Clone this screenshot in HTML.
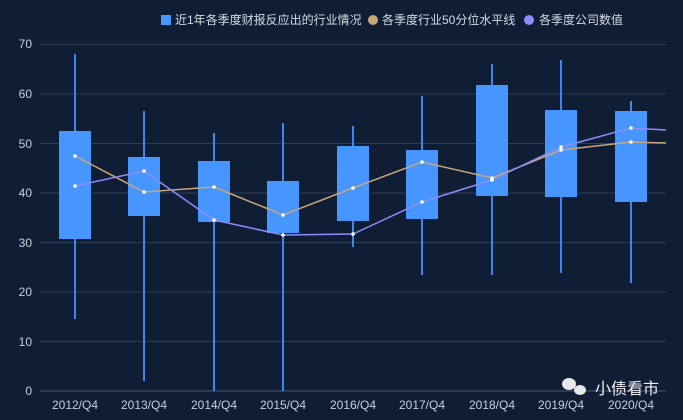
<!DOCTYPE html>
<html><head><meta charset="utf-8"><style>
html,body{margin:0;padding:0;background:#0f1e35;}
svg{display:block;font-family:"Liberation Sans","Noto Sans CJK SC",sans-serif;}
</style></head><body>
<svg width="683" height="420" viewBox="0 0 683 420">
<rect width="683" height="420" fill="#0f1e35"/>
<g stroke="#2f3d55" stroke-width="1">
<line x1="40" x2="666" y1="44.5" y2="44.5"/>
<line x1="40" x2="666" y1="94" y2="94"/>
<line x1="40" x2="666" y1="143.5" y2="143.5"/>
<line x1="40" x2="666" y1="193" y2="193"/>
<line x1="40" x2="666" y1="242.5" y2="242.5"/>
<line x1="40" x2="666" y1="292" y2="292"/>
<line x1="40" x2="666" y1="341.5" y2="341.5"/>
<line x1="40" x2="666" y1="391" y2="391" stroke="#4a5872"/>
</g>
<g fill="#c8d0dc" font-size="12" text-anchor="end">
<text x="32" y="48">70</text><text x="32" y="98">60</text><text x="32" y="148">50</text>
<text x="32" y="197">40</text><text x="32" y="247">30</text><text x="32" y="296">20</text>
<text x="32" y="346">10</text><text x="32" y="395">0</text>
</g>
<g fill="#c8d0dc" font-size="12" text-anchor="middle">
<text x="75" y="409">2012/Q4</text><text x="144" y="409">2013/Q4</text><text x="214" y="409">2014/Q4</text>
<text x="283" y="409">2015/Q4</text><text x="353" y="409">2016/Q4</text><text x="422" y="409">2017/Q4</text>
<text x="492" y="409">2018/Q4</text><text x="561" y="409">2019/Q4</text><text x="631" y="409">2020/Q4</text>
</g>
<g stroke="#3f88ea" stroke-width="2">
<line x1="75" x2="75" y1="54" y2="319"/>
<line x1="144" x2="144" y1="111" y2="381"/>
<line x1="214" x2="214" y1="133" y2="391"/>
<line x1="283" x2="283" y1="123" y2="391"/>
<line x1="353" x2="353" y1="126" y2="247"/>
<line x1="422" x2="422" y1="96" y2="275"/>
<line x1="492" x2="492" y1="64" y2="275"/>
<line x1="561" x2="561" y1="60" y2="273"/>
<line x1="631" x2="631" y1="101" y2="283"/>
</g>
<g fill="#4796ff">
<rect x="59" y="131" width="32" height="108"/>
<rect x="128" y="157" width="32" height="59"/>
<rect x="198" y="161" width="32" height="61"/>
<rect x="267" y="181" width="32" height="52"/>
<rect x="337" y="146" width="32" height="75"/>
<rect x="406" y="150" width="32" height="69"/>
<rect x="476" y="85" width="32" height="111"/>
<rect x="545" y="110" width="32" height="87"/>
<rect x="615" y="111" width="32" height="91"/>
</g>
<polyline fill="none" stroke="#c9a57a" stroke-width="1.5" points="75,156 144,192 214,187 283,215 353,188 422,162 492,178 561,150 631,142 666,143"/>
<polyline fill="none" stroke="#8b8dfa" stroke-width="1.5" points="75,186 144,171 214,220 283,235 353,234 422,202 492,180 561,147 631,128 666,130"/>
<g fill="#fff">
<circle cx="75" cy="156" r="1.8"/><circle cx="144" cy="192" r="1.8"/><circle cx="214" cy="187" r="1.8"/><circle cx="283" cy="215" r="1.8"/><circle cx="353" cy="188" r="1.8"/><circle cx="422" cy="162" r="1.8"/><circle cx="492" cy="178" r="1.8"/><circle cx="561" cy="150" r="1.8"/><circle cx="631" cy="142" r="1.8"/>
<circle cx="75" cy="186" r="1.8"/><circle cx="144" cy="171" r="1.8"/><circle cx="214" cy="220" r="1.8"/><circle cx="283" cy="235" r="1.8"/><circle cx="353" cy="234" r="1.8"/><circle cx="422" cy="202" r="1.8"/><circle cx="492" cy="180" r="1.8"/><circle cx="561" cy="147" r="1.8"/><circle cx="631" cy="128" r="1.8"/>
</g>
<rect x="161" y="15" width="10" height="10" fill="#4796ff"/>
<text x="175" y="24" fill="#d6dce6" font-size="12">近1年各季度财报反应出的行业情况</text>
<circle cx="373" cy="20" r="5" fill="#c9a57a"/>
<text x="382" y="24" fill="#d6dce6" font-size="12">各季度行业50分位水平线</text>
<circle cx="529" cy="20" r="5" fill="#8b8dfa"/>
<text x="539" y="24" fill="#d6dce6" font-size="12">各季度公司数值</text>
<g fill="#e8e8e8">
<ellipse cx="569" cy="384" rx="7" ry="6"/>
<ellipse cx="580" cy="390" rx="6" ry="5"/>
</g>
<text x="595" y="394" fill="#f0f0f0" font-size="16">小债看市</text>
</svg>
</body></html>
